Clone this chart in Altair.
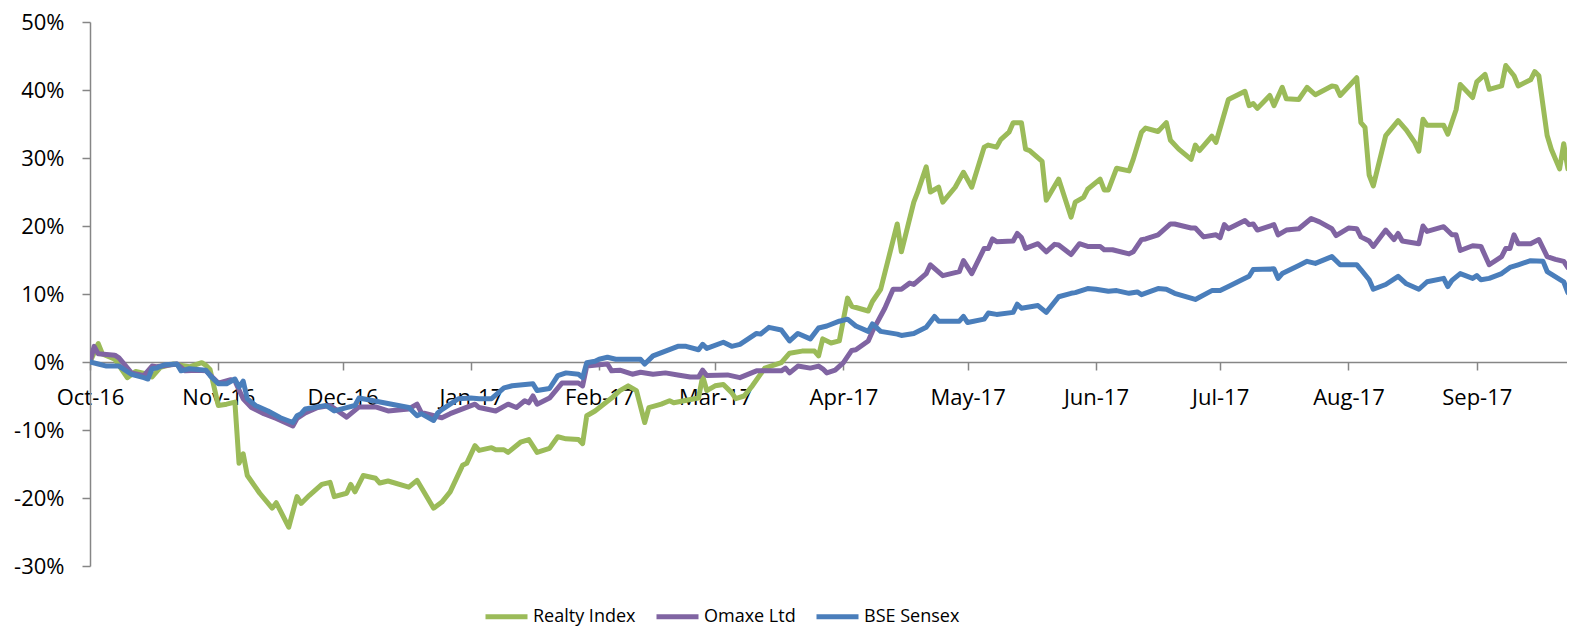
import altair as alt
import pandas as pd

# ---------------- data (percent change since start) ----------------
realty_dates = [
    "2016-10-04", "2016-10-06", "2016-10-07", "2016-10-10", "2016-10-13", "2016-10-15", "2016-10-18",
    "2016-10-19", "2016-10-21", "2016-10-24", "2016-10-28", "2016-10-31", "2016-11-01", "2016-11-02",
    "2016-11-04", "2016-11-06", "2016-11-08", "2016-11-09", "2016-11-10", "2016-11-11", "2016-11-14",
    "2016-11-17", "2016-11-18", "2016-11-21", "2016-11-23", "2016-11-24", "2016-11-26", "2016-11-29",
    "2016-12-01", "2016-12-02", "2016-12-05", "2016-12-06", "2016-12-07", "2016-12-09", "2016-12-12",
    "2016-12-13", "2016-12-15", "2016-12-20", "2016-12-22", "2016-12-26", "2016-12-28", "2016-12-30",
    "2017-01-02", "2017-01-03", "2017-01-05", "2017-01-06", "2017-01-09", "2017-01-10", "2017-01-12",
    "2017-01-13", "2017-01-16", "2017-01-18", "2017-01-20", "2017-01-23", "2017-01-25", "2017-01-27",
    "2017-01-30", "2017-01-31", "2017-02-01", "2017-02-03", "2017-02-07", "2017-02-09", "2017-02-11",
    "2017-02-13", "2017-02-15", "2017-02-16", "2017-02-19", "2017-02-21", "2017-02-22", "2017-02-27",
    "2017-02-28", "2017-03-01", "2017-03-02", "2017-03-04", "2017-03-06", "2017-03-08", "2017-03-09",
    "2017-03-11", "2017-03-13", "2017-03-16", "2017-03-20", "2017-03-22", "2017-03-25", "2017-03-28",
    "2017-03-29", "2017-03-30", "2017-04-01", "2017-04-03", "2017-04-05", "2017-04-06", "2017-04-10",
    "2017-04-11", "2017-04-13", "2017-04-17", "2017-04-18", "2017-04-21", "2017-04-22", "2017-04-24",
    "2017-04-25", "2017-04-27", "2017-04-28", "2017-05-01", "2017-05-03", "2017-05-05", "2017-05-08",
    "2017-05-09", "2017-05-11", "2017-05-12", "2017-05-14", "2017-05-15", "2017-05-17", "2017-05-18",
    "2017-05-19", "2017-05-22", "2017-05-23", "2017-05-26", "2017-05-29", "2017-05-30", "2017-06-01",
    "2017-06-02", "2017-06-05", "2017-06-06", "2017-06-07", "2017-06-09", "2017-06-12", "2017-06-13",
    "2017-06-15", "2017-06-16", "2017-06-19", "2017-06-21", "2017-06-22", "2017-06-24", "2017-06-27",
    "2017-06-28", "2017-06-29", "2017-07-02", "2017-07-03", "2017-07-06", "2017-07-10", "2017-07-11",
    "2017-07-12", "2017-07-13", "2017-07-16", "2017-07-17", "2017-07-19", "2017-07-20", "2017-07-23",
    "2017-07-25", "2017-07-27", "2017-07-31", "2017-08-01", "2017-08-02", "2017-08-06", "2017-08-07",
    "2017-08-08", "2017-08-09", "2017-08-10", "2017-08-13", "2017-08-16", "2017-08-18", "2017-08-20",
    "2017-08-21", "2017-08-22", "2017-08-23", "2017-08-27", "2017-08-28", "2017-08-30", "2017-08-31",
    "2017-09-03", "2017-09-04", "2017-09-06", "2017-09-07", "2017-09-10", "2017-09-11", "2017-09-13",
    "2017-09-14", "2017-09-17", "2017-09-18", "2017-09-19", "2017-09-21", "2017-09-22", "2017-09-24",
    "2017-09-25", "2017-09-26", "2017-09-27",
]
realty_values = [
    0.0, 2.7, 1.2, 0.4, -2.3, -1.4, -1.8,
    -2.2, -0.8, -0.3, -0.7, -0.1, -0.5, -1.1,
    -6.4, -6.2, -5.9, -14.9, -13.5, -16.7, -19.3,
    -21.5, -20.7, -24.3, -19.8, -20.8, -19.6, -18.0,
    -17.7, -19.8, -19.3, -18.0, -19.1, -16.7, -17.1,
    -17.8, -17.5, -18.4, -17.4, -21.5, -20.6, -19.1,
    -15.2, -14.9, -12.3, -13.0, -12.6, -12.9, -12.9,
    -13.3, -11.8, -11.4, -13.3, -12.7, -11.0, -11.3,
    -11.4, -12.0, -7.9, -7.2, -5.3, -4.2, -3.5,
    -4.2, -8.9, -6.7, -6.2, -5.7, -6.0, -5.4,
    -5.3, -2.1, -4.2, -3.5, -3.3, -4.5, -5.4,
    -5.0, -3.5, -0.9, -0.1, 1.3, 1.6, 1.6,
    0.9, 3.4, 2.8, 3.1, 9.4, 8.2, 7.5,
    8.9, 10.7, 20.3, 16.2, 23.5, 25.1, 28.7,
    25.0, 25.7, 23.5, 25.7, 27.9, 25.7, 31.6,
    31.9, 31.6, 32.7, 33.8, 35.2, 35.2, 31.3,
    31.1, 29.5, 23.8, 26.9, 21.3, 23.5, 24.2,
    25.4, 26.9, 25.3, 25.3, 28.5, 28.1, 29.8,
    33.8, 34.4, 33.9, 35.2, 32.6, 31.3, 29.8,
    31.9, 31.1, 33.2, 32.3, 38.6, 39.8, 37.7,
    38.0, 37.3, 39.2, 37.7, 40.4, 38.7, 38.6,
    40.4, 39.3, 40.6, 40.5, 39.2, 41.8, 35.2,
    34.5, 27.5, 25.9, 33.3, 35.5, 34.1, 32.3,
    31.0, 35.7, 34.8, 34.8, 33.5, 37.1, 40.8,
    38.9, 41.2, 42.3, 40.1, 40.6, 43.6, 42.1,
    40.6, 41.5, 42.7, 42.1, 33.3, 31.3, 28.4,
    32.1, 28.4, 32.6,
]

omaxe_dates = [
    "2016-10-04", "2016-10-05", "2016-10-06", "2016-10-10", "2016-10-11", "2016-10-14", "2016-10-17",
    "2016-10-19", "2016-10-20", "2016-10-25", "2016-10-27", "2016-10-30", "2016-11-01", "2016-11-04",
    "2016-11-07", "2016-11-08", "2016-11-10", "2016-11-12", "2016-11-15", "2016-11-18", "2016-11-22",
    "2016-11-23", "2016-11-25", "2016-11-28", "2016-12-01", "2016-12-05", "2016-12-08", "2016-12-12",
    "2016-12-15", "2016-12-20", "2016-12-22", "2016-12-23", "2016-12-28", "2016-12-30", "2017-01-02",
    "2017-01-05", "2017-01-06", "2017-01-10", "2017-01-13", "2017-01-15", "2017-01-17", "2017-01-18",
    "2017-01-19", "2017-01-20", "2017-01-23", "2017-01-26", "2017-01-30", "2017-01-31", "2017-02-01",
    "2017-02-04", "2017-02-06", "2017-02-07", "2017-02-09", "2017-02-12", "2017-02-14", "2017-02-17",
    "2017-02-20", "2017-02-23", "2017-02-26", "2017-02-28", "2017-03-01", "2017-03-02", "2017-03-07",
    "2017-03-10", "2017-03-14", "2017-03-20", "2017-03-21", "2017-03-22", "2017-03-24", "2017-03-27",
    "2017-03-29", "2017-03-30", "2017-03-31", "2017-04-02", "2017-04-04", "2017-04-06", "2017-04-07",
    "2017-04-10", "2017-04-11", "2017-04-14", "2017-04-16", "2017-04-18", "2017-04-20", "2017-04-21",
    "2017-04-24", "2017-04-25", "2017-04-28", "2017-05-02", "2017-05-03", "2017-05-05", "2017-05-08",
    "2017-05-09", "2017-05-10", "2017-05-11", "2017-05-15", "2017-05-16", "2017-05-17", "2017-05-18",
    "2017-05-21", "2017-05-23", "2017-05-25", "2017-05-26", "2017-05-29", "2017-05-31", "2017-06-02",
    "2017-06-05", "2017-06-06", "2017-06-08", "2017-06-12", "2017-06-13", "2017-06-15", "2017-06-16",
    "2017-06-19", "2017-06-22", "2017-06-23", "2017-06-27", "2017-06-28", "2017-06-30", "2017-07-03",
    "2017-07-04", "2017-07-05", "2017-07-06", "2017-07-10", "2017-07-11", "2017-07-12", "2017-07-13",
    "2017-07-17", "2017-07-18", "2017-07-20", "2017-07-23", "2017-07-26", "2017-07-28", "2017-07-31",
    "2017-08-01", "2017-08-04", "2017-08-06", "2017-08-07", "2017-08-09", "2017-08-10", "2017-08-13",
    "2017-08-15", "2017-08-16", "2017-08-17", "2017-08-21", "2017-08-22", "2017-08-23", "2017-08-27",
    "2017-08-29", "2017-08-30", "2017-08-31", "2017-09-03", "2017-09-05", "2017-09-07", "2017-09-10",
    "2017-09-11", "2017-09-12", "2017-09-13", "2017-09-14", "2017-09-17", "2017-09-19", "2017-09-21",
    "2017-09-23", "2017-09-25", "2017-09-26", "2017-09-27",
]
omaxe_values = [
    0.0, 2.3, 1.2, 1.0, 0.6, -1.6, -2.0,
    -0.6, -0.7, -0.3, -1.3, -1.2, -1.3, -3.1,
    -2.6, -2.8, -5.4, -6.7, -7.6, -8.3, -9.4,
    -8.3, -7.5, -6.7, -6.4, -8.1, -6.6, -6.6,
    -7.2, -6.9, -6.2, -7.4, -8.2, -7.6, -6.9,
    -6.2, -6.7, -7.2, -6.2, -6.7, -5.7, -6.0,
    -5.0, -6.2, -5.3, -3.1, -3.1, -3.5, -0.6,
    -0.4, -0.3, -1.3, -1.2, -1.8, -1.5, -1.8,
    -1.6, -1.9, -2.2, -2.2, -1.2, -2.0, -1.9,
    -2.3, -1.3, -1.3, -0.9, -1.6, -0.6, -0.9,
    -0.6, -1.0, -1.6, -1.2, -0.1, 1.7, 1.8,
    3.1, 4.5, 7.9, 10.7, 10.7, 11.6, 11.4,
    13.0, 14.3, 12.7, 13.3, 14.9, 13.0, 16.7,
    16.7, 18.1, 17.7, 17.8, 18.9, 18.3, 16.7,
    17.4, 16.2, 17.3, 17.2, 15.8, 17.4, 17.0,
    17.0, 16.5, 16.5, 15.9, 16.2, 18.0, 18.1,
    18.7, 20.3, 20.3, 19.7, 19.7, 18.4, 18.7,
    18.3, 20.2, 19.6, 20.8, 20.2, 20.3, 19.4,
    20.2, 18.7, 19.4, 19.6, 21.1, 20.6, 19.6,
    18.6, 19.7, 19.6, 18.4, 17.8, 17.0, 19.4,
    18.0, 18.9, 17.8, 17.4, 20.0, 19.2, 19.9,
    18.7, 18.7, 16.4, 17.1, 17.0, 14.3, 15.5,
    16.7, 16.7, 18.7, 17.4, 17.4, 18.0, 15.5,
    15.1, 14.8, 13.9, 15.2,
]

sensex_dates = [
    "2016-10-04", "2016-10-06", "2016-10-08", "2016-10-11", "2016-10-14", "2016-10-17", "2016-10-18",
    "2016-10-19", "2016-10-20", "2016-10-22", "2016-10-25", "2016-10-26", "2016-10-28", "2016-11-01",
    "2016-11-02", "2016-11-04", "2016-11-06", "2016-11-08", "2016-11-09", "2016-11-10", "2016-11-11",
    "2016-11-13", "2016-11-16", "2016-11-19", "2016-11-22", "2016-11-23", "2016-11-24", "2016-11-25",
    "2016-11-30", "2016-12-02", "2016-12-05", "2016-12-07", "2016-12-08", "2016-12-14", "2016-12-20",
    "2016-12-22", "2016-12-23", "2016-12-26", "2016-12-27", "2016-12-28", "2016-12-30", "2017-01-01",
    "2017-01-04", "2017-01-06", "2017-01-09", "2017-01-12", "2017-01-14", "2017-01-19", "2017-01-20",
    "2017-01-23", "2017-01-25", "2017-01-27", "2017-01-30", "2017-01-31", "2017-02-01", "2017-02-03",
    "2017-02-04", "2017-02-06", "2017-02-08", "2017-02-14", "2017-02-15", "2017-02-17", "2017-02-20",
    "2017-02-23", "2017-02-25", "2017-02-28", "2017-03-01", "2017-03-02", "2017-03-06", "2017-03-08",
    "2017-03-10", "2017-03-14", "2017-03-15", "2017-03-17", "2017-03-20", "2017-03-22", "2017-03-24",
    "2017-03-27", "2017-03-29", "2017-03-31", "2017-04-03", "2017-04-05", "2017-04-07", "2017-04-10",
    "2017-04-11", "2017-04-13", "2017-04-17", "2017-04-18", "2017-04-21", "2017-04-24", "2017-04-26",
    "2017-04-27", "2017-05-02", "2017-05-03", "2017-05-04", "2017-05-08", "2017-05-09", "2017-05-11",
    "2017-05-15", "2017-05-16", "2017-05-17", "2017-05-21", "2017-05-23", "2017-05-26", "2017-05-29",
    "2017-05-30", "2017-06-02", "2017-06-04", "2017-06-07", "2017-06-09", "2017-06-12", "2017-06-14",
    "2017-06-15", "2017-06-19", "2017-06-21", "2017-06-23", "2017-06-28", "2017-07-02", "2017-07-04",
    "2017-07-06", "2017-07-10", "2017-07-11", "2017-07-12", "2017-07-17", "2017-07-18", "2017-07-19",
    "2017-07-23", "2017-07-25", "2017-07-27", "2017-07-31", "2017-08-02", "2017-08-06", "2017-08-07",
    "2017-08-09", "2017-08-10", "2017-08-13", "2017-08-16", "2017-08-18", "2017-08-21", "2017-08-23",
    "2017-08-27", "2017-08-28", "2017-08-29", "2017-08-31", "2017-09-03", "2017-09-04", "2017-09-05",
    "2017-09-07", "2017-09-10", "2017-09-12", "2017-09-14", "2017-09-17", "2017-09-20", "2017-09-21",
    "2017-09-25", "2017-09-26", "2017-09-27",
]
sensex_values = [
    0.0, -0.3, -0.6, -0.6, -1.8, -2.3, -2.5,
    -1.0, -0.9, -0.4, -0.3, -1.3, -1.0, -1.2,
    -2.0, -3.2, -3.2, -2.5, -3.7, -2.8, -5.4,
    -6.4, -7.2, -8.2, -8.9, -7.9, -7.6, -6.9,
    -6.4, -7.2, -6.7, -6.4, -5.3, -6.0, -6.7,
    -7.9, -7.6, -8.6, -7.5, -7.0, -6.2, -5.4,
    -5.3, -5.4, -5.4, -3.8, -3.5, -3.2, -4.2,
    -3.9, -2.0, -1.6, -1.8, -2.3, -0.1, 0.1,
    0.4, 0.7, 0.4, 0.4, -0.3, 0.9, 1.6,
    2.3, 2.3, 1.8, 2.6, 2.0, 2.9, 2.3,
    2.6, 4.2, 4.1, 5.1, 4.7, 3.1, 4.2,
    3.4, 5.0, 5.3, 6.0, 6.3, 5.3, 4.5,
    5.6, 4.5, 4.1, 3.9, 4.2, 5.1, 6.7,
    6.0, 6.0, 6.7, 5.8, 6.3, 7.2, 7.0,
    7.3, 8.5, 7.9, 8.3, 7.3, 9.6, 10.1,
    10.2, 10.8, 10.7, 10.4, 10.5, 10.1, 10.3,
    9.9, 10.8, 10.7, 10.1, 9.2, 10.5, 10.5,
    11.1, 12.3, 12.6, 13.6, 13.7, 12.3, 13.0,
    14.2, 14.8, 14.5, 15.5, 14.3, 14.3, 13.6,
    12.1, 10.7, 11.4, 12.6, 11.5, 10.7, 11.8,
    12.3, 11.1, 12.0, 13.0, 12.3, 12.7, 12.1,
    12.3, 13.0, 13.9, 14.3, 14.9, 14.8, 13.3,
    11.8, 10.2, 11.0,
]

series_names = ["Realty Index", "Omaxe Ltd", "BSE Sensex"]
series_colors = ["#9BBB59", "#8064A2", "#4A7EBB"]
y_ticks = [-30, -20, -10, 0, 10, 20, 30, 40, 50]
month_ticks = [(2016, 10), (2016, 11), (2016, 12), (2017, 1), (2017, 2), (2017, 3),
               (2017, 4), (2017, 5), (2017, 6), (2017, 7), (2017, 8), (2017, 9)]

# ---------------- table ----------------
frames = []
for name, dts, vals in [
    (series_names[0], realty_dates, realty_values),
    (series_names[1], omaxe_dates, omaxe_values),
    (series_names[2], sensex_dates, sensex_values),
]:
    frames.append(pd.DataFrame({"date": pd.to_datetime(dts), "value": vals, "series": name}))
df = pd.concat(frames, ignore_index=True)

FONT = "Open Sans"
AXIS_GRAY = "#868686"

x_enc = alt.X(
    "date:T",
    scale=alt.Scale(domain=[alt.DateTime(year=2016, month=10, date=4),
                            alt.DateTime(year=2017, month=9, date=25, hours=19)]),
    axis=alt.Axis(
        values=[alt.DateTime(year=y, month=m, date=4) for y, m in month_ticks],
        format="%b-%y", title=None, grid=False, offset=-204,
        tickSize=8, tickColor=AXIS_GRAY, tickWidth=1.5,
        domainColor=AXIS_GRAY, domainWidth=1.5,
        labelPadding=17, labelFont=FONT, labelFontSize=22, labelColor="#000000",
        labelFlush=False, labelOverlap=False, labelBound=False,
    ),
)
y_enc = alt.Y(
    "value:Q",
    scale=alt.Scale(domain=[-30, 50], nice=False, zero=False),
    axis=alt.Axis(
        values=y_ticks, labelExpr="datum.value + '%'", title=None, grid=False,
        tickSize=8, tickColor=AXIS_GRAY, tickWidth=1.5,
        domainColor=AXIS_GRAY, domainWidth=1.5,
        labelPadding=18, labelFont=FONT, labelFontSize=22, labelColor="#000000",
    ),
)
color_enc = alt.Color(
    "series:N",
    scale=alt.Scale(domain=series_names, range=series_colors),
    legend=alt.Legend(
        title=None, orient="none", direction="horizontal", legendX=393, legendY=571,
        symbolType="stroke", symbolSize=1764, symbolStrokeWidth=5,
        labelFont=FONT, labelFontSize=18, labelColor="#000000", labelOffset=3,
        columnPadding=10, padding=0,
    ),
)

base = alt.Chart(df)
layers = [
    base.transform_filter(alt.datum.series == name)
    .mark_line(strokeWidth=5, clip=True, strokeJoin="round", strokeCap="round")
    .encode(x=x_enc, y=y_enc, color=color_enc)
    for name in series_names
]

chart = (
    alt.layer(*layers)
    .properties(
        width=1477, height=544,
        autosize=alt.AutoSizeParams(type="none"),
        padding={"left": 82, "top": 14, "right": 0, "bottom": 61},
        background="#ffffff",
    )
    .configure_view(strokeWidth=0)
)

chart.save("out.html", embed_options={"renderer": "svg", "actions": False})
